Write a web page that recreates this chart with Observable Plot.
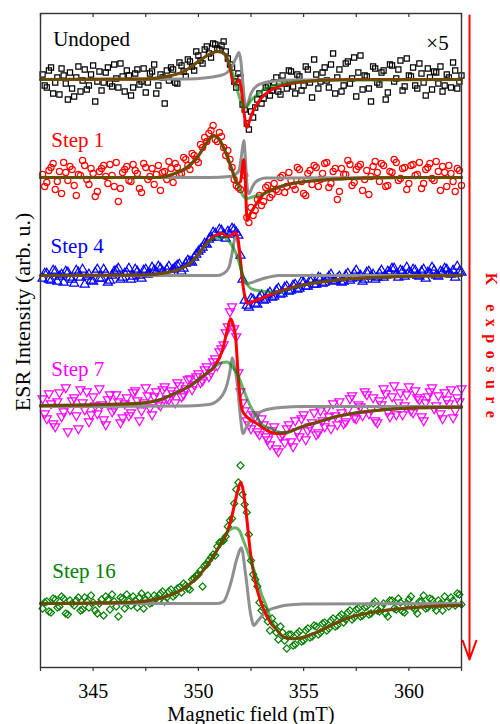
<!DOCTYPE html>
<html><head><meta charset="utf-8">
<script src="https://cdn.jsdelivr.net/npm/d3@7"></script>
<script src="https://cdn.jsdelivr.net/npm/@observablehq/plot@0.6"></script>
<style>
body{margin:0;background:#fff}
#chart svg, #chart svg text { font-family: "Liberation Serif", "DejaVu Serif", serif !important; }
</style>
</head><body><div id="chart"></div>
<script>
// ---------- DATA ----------
// two interleaved field sweeps (mT)
const fieldA = [
342.6,342.8,343.0,343.2,343.4,343.6,343.8,344.0,344.2,344.4,
344.6,344.8,345.0,345.2,345.4,345.6,345.8,346.0,346.2,346.4,
346.6,346.8,347.0,347.2,347.4,347.6,347.8,348.0,348.2,348.4,
348.6,348.8,349.0,349.2,349.4,349.6,349.8,350.0,350.2,350.4,
350.6,350.8,351.0,351.2,351.4,351.6,351.8,352.0,352.2,352.4,
352.6,352.8,353.0,353.2,353.4,353.6,353.8,354.0,354.2,354.4,
354.6,354.8,355.0,355.2,355.4,355.6,355.8,356.0,356.2,356.4,
356.6,356.8,357.0,357.2,357.4,357.6,357.8,358.0,358.2,358.4,
358.6,358.8,359.0,359.2,359.4,359.6,359.8,360.0,360.2,360.4,
360.6,360.8,361.0,361.2,361.4,361.6,361.8,362.0,362.2,362.4];
const fieldB = [
342.7,342.9,343.1,343.3,343.5,343.7,343.9,344.1,344.3,344.5,
344.7,344.9,345.1,345.3,345.5,345.7,345.9,346.1,346.3,346.5,
346.7,346.9,347.1,347.3,347.5,347.7,347.9,348.1,348.3,348.5,
348.7,348.9,349.1,349.3,349.5,349.7,349.9,350.1,350.3,350.5,
350.7,350.9,351.1,351.3,351.5,351.7,351.9,352.1,352.3,352.5,
352.7,352.9,353.1,353.3,353.5,353.7,353.9,354.1,354.3,354.5,
354.7,354.9,355.1,355.3,355.5,355.7,355.9,356.1,356.3,356.5,
356.7,356.9,357.1,357.3,357.5,357.7,357.9,358.1,358.3,358.5,
358.7,358.9,359.1,359.3,359.5,359.7,359.9,360.1,360.3,360.5,
360.7,360.9,361.1,361.3,361.5,361.7,361.9,362.1,362.3,362.5];

const names = ["Undoped","Step 1","Step 4","Step 7","Step 16"];
const offsets = [588, 490, 392, 261, 63];

// intensities relative to each spectrum's baseline (arb. u.)
const undopedA = [5,-8,12,-3,-15,4,-20,-9,2,-12, 10,-6,14,-2,-11,7,-4,15,-8,3, 9,-16,6,-5,11,-3,8,-14,5,-24,
 -1,10,-4,14,3,18,9,24,16,33, 22,35,30,38,21,12,-8,2,-30,-50, -38,-20,-24,-8,-16,-3,-12,4,-9,8,
 -14,3,-6,10,-18,5,-2,12,-8,26, 2,-12,16,-4,22,7,-10,3,-22,11, -5,9,-13,14,1,19,-7,4,12,-9, 6,-16,2,8,-4,-12,5,-8,9,-2];
const undopedB = [-6,9,-14,2,11,-4,7,-17,13,-1, -10,5,-22,8,-3,12,-7,1,16,-12, 4,-8,10,-2,-13,6,15,-6,2,9,
 12,-3,17,8,20,13,28,19,30,26, 36,31,34,28,15,-2,6,-25,-44,-32, -28,-14,-19,-6,-11,2,-15,-4,9,-7,
 5,-11,13,-3,20,-9,7,-1,15,-14, 10,-6,18,1,-17,24,4,-9,13,-3, 7,-20,15,-2,10,-11,21,3,-6,16, -3,11,-10,7,13,-6,2,17,-9,4];
const step1A = [3,-5,10,-12,6,15,-3,8,-18,2, 12,-7,4,-14,9,1,13,-9,-24,5, 11,-4,7,-11,14,-2,9,3,-13,6,
 16,-5,10,4,18,8,22,15,30,36, 47,38,45,30,27,10,-8,-12,2,-45, -38,-22,-28,-10,-20,-6,-14,2,-9,-3,
 -12,8,-16,4,-7,10,-2,14,-10,6, -22,9,3,13,-5,11,-13,7,1,16, -4,12,-8,5,15,-1,10,-6,13,3, -11,8,14,-3,6,11,-9,4,-14,7];
const step1B = [-9,7,14,-4,-16,5,11,-8,3,17, -2,9,-19,6,12,-6,2,15,-11,8, -3,13,4,-15,10,1,-7,12,5,-2,
 9,14,3,20,12,24,18,33,40,44, 52,36,41,22,18,-2,-10,8,-40,-30, -33,-18,-24,-8,-17,-12,0,-15,5,-8,
 10,-4,-18,7,12,-9,4,15,-6,9, -14,3,17,-8,8,13,-2,-17,11,5, 14,-9,6,18,-3,9,-12,12,2,15, -6,10,-1,16,-13,5,12,-4,9,-8];
const step4A = [-3,2,-5,4,-1,-7,3,-4,5,-2, -9,1,-6,6,-3,2,-5,4,7,-2, 3,-4,6,0,5,1,8,3,7,2,
 9,6,10,4,12,14,18,24,28,31, 38,42,46,41,44,47,43,20,-25,-32, -24,-29,-20,-24,-17,-21,-13,-18,-11,-15,
 -9,-13,-7,-11,-4,-9,-3,-7,-1,-6, -3,-7,0,-5,2,-2,-6,3,-1,-4, 2,-2,4,7,1,5,-1,3,6,0, 4,-3,2,5,-1,3,6,1,-2,4];
const step4B = [2,-4,5,-6,1,4,-2,-8,3,6, -1,-5,3,-3,6,-7,0,5,-4,2, 7,-1,4,-3,6,2,5,9,4,6,
 3,8,11,7,15,13,21,26,32,36, 43,38,45,37,41,46,40,-4,-30,-23, -28,-22,-25,-19,-22,-15,-19,-12,-16,-10,
 -14,-6,-11,-5,-9,-2,-8,-4,1,-5, -1,-6,2,-3,5,0,-4,4,1,-2, 5,0,3,7,-2,4,8,2,5,-1, 6,3,8,0,4,7,2,5,9,3];
const step7A = [8,-12,3,-20,14,-5,-25,6,-9,17, -3,-15,10,-7,2,-18,12,-2,5,-11, 9,-6,16,-14,4,11,-8,15,1,20,
 7,13,24,10,18,28,22,33,26,40, 34,48,55,62,80,100,70,15,-4,-18, -8,-25,-12,-30,-38,-20,-45,-28,-22,-35,
 -14,-30,-8,-24,-16,-28,-4,-20,-10,3, -18,-6,-15,8,-11,2,-9,12,-3,-14, 6,18,-5,10,-8,14,1,20,-6,9, -10,4,15,-2,11,-12,7,17,-4,5];
const step7B = [-7,13,-17,5,-10,19,-3,9,-22,4, 15,-8,1,18,-13,7,-5,12,-16,3, -9,14,6,-4,19,-1,10,3,17,8,
 16,4,21,12,27,17,30,24,37,30, 45,41,58,74,95,78,34,4,-14,-22, -10,-28,-18,-33,-24,-42,-30,-36,-18,-40,
 -25,-12,-33,-20,-6,-26,-14,-2,-22,-9, 5,-17,-3,11,-12,0,15,-7,9,-16, 2,13,-10,21,4,-8,12,-4,16,7, -14,10,19,1,-7,14,3,-11,9,18];
const step16A = [-4,3,-8,5,-2,6,-10,1,4,-6, 7,-3,2,-9,5,8,-5,3,-12,6, 10,-1,4,7,-4,9,2,6,11,3,
 13,8,16,12,19,15,26,30,18,40, 47,49,62,64,78,86,115,139,100,70, 30,18,-6,-12,-26,-20,-35,-28,-44,-30,
 -40,-27,-36,-24,-32,-22,-28,-18,-24,-14, -21,-10,-15,-6,-13,-4,-11,-2,-9,3, -7,1,-12,4,-5,2,-8,5,-3,-9, 3,-4,6,-2,4,-6,2,7,-1,10];
const step16B = [2,-7,6,-3,8,-9,4,-1,7,-5, 3,9,-6,1,-11,5,10,-2,7,-4, 3,8,-3,11,5,1,9,4,13,7,
 15,10,17,21,16,25,29,34,39,44, 50,58,63,68,84,101,122,110,92,44, 25,2,-4,-17,-14,-28,-22,-36,-30,-41,
 -29,-37,-26,-33,-21,-30,-19,-26,-16,-22, -12,-18,-8,-15,-5,-12,-3,-10,1,-6, -2,-9,4,-4,6,-7,1,8,-5,3, 9,-3,5,-6,1,8,-2,4,11,0];

// fitted curves: [field (mT), intensity]
const undopedTotal = [[342.5,0],[347.5,0.5],[348.5,3],[349.3,8],[350.0,18],[350.5,25],[350.9,28],[351.15,27],[351.4,19],[351.55,7],[351.66,-4],[351.8,-3],[351.93,-0.3],[352.03,-8],[352.15,-30],[352.3,-48],[352.42,-42],[352.55,-34],[352.8,-24],[353.1,-16],[353.6,-9],[354.2,-4.5],[354.8,-2.7],[355.7,-1],[357.5,0],[362.5,0]];
const undopedBroad = [[342.5,0],[347.5,0.5],[348.5,3],[349.3,8],[350.0,18],[350.5,25],[350.9,28],[351.15,27],[351.4,20],[351.6,8],[351.8,-6],[351.95,-18],[352.1,-26],[352.25,-28],[352.5,-21],[352.8,-15],[353.1,-10],[353.6,-6],[354.2,-3.5],[355.0,-2],[356.5,-0.5],[362.5,0]];
const undopedNarrow = [[342.5,0],[349.5,0.5],[351.05,4],[351.37,7],[351.6,13],[351.8,22],[351.93,27],[352.02,18],[352.12,-5],[352.24,-27],[352.35,-24],[352.5,-14],[352.8,-6],[353.1,-3.5],[353.6,-1.5],[354.5,-0.5],[362.5,0]];

const step1Total = [[342.5,0],[347.0,0],[348.05,0],[348.84,3.7],[349.47,10.3],[349.95,20.3],[350.42,35.3],[350.71,42],[350.97,38.7],[351.29,25.3],[351.61,7],[351.85,-6.3],[352.0,-4],[352.1,12],[352.15,18],[352.22,0],[352.32,-43],[352.42,-38],[352.56,-33],[352.8,-25],[353.1,-16.3],[353.59,-11.3],[354.06,-8],[354.86,-4.7],[355.65,-3],[357.2,-1],[359.6,0],[362.5,0]];
const step1Broad = [[342.5,0],[347.0,0],[348.05,0],[348.84,3.7],[349.47,10.3],[349.95,20.3],[350.42,35.3],[350.71,42],[350.97,38.7],[351.29,25.3],[351.61,7],[351.85,-6.3],[352.0,-13],[352.15,-19],[352.32,-21],[352.5,-20],[352.8,-18],[353.1,-16.3],[353.59,-11.3],[354.06,-8],[354.86,-4.7],[355.65,-3],[357.2,-1],[359.6,0],[362.5,0]];
const step1Narrow = [[342.5,0],[350.5,0],[351.5,1],[351.75,3],[351.93,7],[352.05,22],[352.16,37],[352.23,20],[352.3,-5],[352.38,-16],[352.45,-15],[352.55,-10],[352.7,-5],[352.9,-2],[353.2,-0.5],[362.5,0]];

const step4Total = [[342.5,0],[347.5,0.5],[348.5,3],[349.2,7],[349.7,14],[350.1,24],[350.5,35],[350.9,41],[351.15,42],[351.35,39],[351.55,40],[351.75,43],[351.88,37],[352.0,15],[352.12,-10],[352.22,-22],[352.32,-28],[352.6,-26],[353.1,-22],[353.75,-16.5],[354.86,-10],[356.4,-5],[358.0,-2.3],[360.4,-0.7],[362.5,0]];
const step4Broad = [[342.5,0],[347.5,0.5],[348.5,3],[349.2,7],[349.7,14],[350.1,24],[350.5,34],[350.9,38],[351.2,38],[351.5,33],[351.75,24],[351.95,12],[352.15,-2],[352.35,-10],[352.6,-14],[353.0,-15.5],[353.4,-16.5],[353.75,-16.5],[354.86,-10],[356.4,-5],[358.0,-2.3],[360.4,-0.7],[362.5,0]];
const step4Narrow = [[342.5,0],[350.9,0],[351.2,2],[351.45,8],[351.6,22],[351.75,38],[351.85,36],[351.95,22],[352.05,3],[352.16,-6],[352.32,-8],[352.55,-7],[352.8,-5],[353.27,-2],[353.8,0],[362.5,0]];

const step7Total = [[342.5,1],[346.8,2.7],[348.05,6],[348.84,12.7],[349.63,21],[350.26,31],[350.74,39.3],[351.14,56],[351.37,76],[351.53,87.7],[351.65,82],[351.77,69],[351.92,22.7],[352.09,-4],[352.32,-10.7],[352.8,-17.3],[353.43,-25.7],[353.91,-27.3],[354.23,-25.7],[354.86,-20.7],[355.65,-15.7],[356.44,-10.7],[357.23,-7.3],[358.82,-3.3],[360.4,-1.3],[362.5,-0.7]];
const step7Broad = [[342.5,1],[346.8,2.7],[348.05,6],[348.84,12.7],[349.63,21],[350.26,31],[350.74,39.3],[351.14,44],[351.37,44.5],[351.6,40],[351.85,32.7],[352.16,16],[352.48,0],[352.8,-11],[352.97,-17],[353.43,-22],[353.91,-26],[354.23,-25.7],[354.86,-20.7],[355.65,-15.7],[356.44,-10.7],[357.23,-7.3],[358.82,-3.3],[360.4,-1.3],[362.5,-0.7]];
const step7Narrow = [[342.5,0],[349.5,0.5],[350.5,2],[351.06,9],[351.37,22.7],[351.5,35],[351.61,48.7],[351.72,40],[351.85,22.7],[352.0,-10.7],[352.12,-27],[352.25,-22],[352.48,-14],[352.8,-7],[353.11,-4],[353.91,-1],[355.0,0],[362.5,0]];

const step16Total = [[342.5,1],[346.78,2.3],[348.36,7.3],[349.15,14],[349.95,27.3],[350.58,44],[351.06,60.7],[351.37,72.3],[351.55,85],[351.69,97.3],[351.85,112],[352.01,122.3],[352.12,115],[352.24,97.3],[352.48,50.7],[352.64,30],[352.8,14],[353.27,-12.7],[353.75,-26],[354.06,-32.7],[354.54,-34.3],[355.65,-27.7],[356.44,-19.3],[357.23,-12.7],[358.82,-6],[360.4,-2.7],[362.5,-1]];
const step16Broad = [[342.5,1],[346.78,2.3],[348.36,7.3],[349.15,14],[349.95,27.3],[350.58,44],[351.06,60.7],[351.37,72.3],[351.75,76.7],[351.95,74],[352.1,66],[352.32,54],[352.55,40],[352.8,24],[353.0,10],[353.2,0],[353.43,-14],[353.75,-26],[354.06,-32.7],[354.54,-34.3],[355.65,-27.7],[356.44,-19.3],[357.23,-12.7],[358.82,-6],[360.4,-2.7],[362.5,-1]];
const step16Narrow = [[342.5,1],[350.9,1],[351.2,3],[351.53,20.7],[351.85,47.3],[352.04,56.7],[352.24,30.7],[352.48,-9.3],[352.64,-21],[352.8,-17],[353.11,-9.3],[353.4,-5],[353.75,-2.7],[354.06,-1],[355.0,0.5],[362.5,1]];

const majorTicks = [345, 350, 355, 360];
const minorTicks = [342.5, 347.5, 352.5, 357.5, 362.5];

// ---------- STYLE / LAYOUT ----------
const colors = ["#000000", "#ff0000", "#0000ff", "#ff00ff", "#008000"];
const symbols = ["square", "circle", "triangle", "triangle", "diamond2"];
const rotations = [0, 0, 0, 180, 0];
const radii = [2.9, 3.1, 3.4, 3.4, 3.2];
const labelX = [343.1, 343.01, 342.98, 343.01, 343.06];
const labelY = [622, 521, 415, 292, 90];
const serif = '"Liberation Serif", "DejaVu Serif", serif';

const seriesA = [undopedA, step1A, step4A, step7A, step16A];
const seriesB = [undopedB, step1B, step4B, step7B, step16B];
const totals = [undopedTotal, step1Total, step4Total, step7Total, step16Total];
const broads = [undopedBroad, step1Broad, step4Broad, step7Broad, step16Broad];
const narrows = [undopedNarrow, step1Narrow, step4Narrow, step7Narrow, step16Narrow];

const marks = [];
names.forEach((name, k) => {
  const pts = seriesA[k].map((v, i) => ({x: fieldA[i], y: offsets[k] + v}))
    .concat(seriesB[k].map((v, i) => ({x: fieldB[i], y: offsets[k] + v})));
  marks.push(Plot.dot(pts, {x: "x", y: "y", symbol: symbols[k], r: radii[k], rotate: rotations[k],
    stroke: colors[k], strokeWidth: 1.2, fill: "none"}));
});
const curveOf = (arr, k) => arr.map(([x, v]) => ({x, y: offsets[k] + v}));
narrows.forEach((arr, k) => marks.push(Plot.line(curveOf(arr, k), {x: "x", y: "y", stroke: "#8f8f8f", strokeWidth: 3, curve: "monotone-x"})));
totals.forEach((arr, k) => marks.push(Plot.line(curveOf(arr, k), {x: "x", y: "y", stroke: "#ff0000", strokeWidth: 3, curve: "monotone-x"})));
broads.forEach((arr, k) => marks.push(Plot.line(curveOf(arr, k), {x: "x", y: "y", stroke: "#008000", strokeOpacity: 0.6, strokeWidth: 3, curve: "monotone-x"})));

const labels = names.map((t, k) => ({t, x: labelX[k], y: labelY[k], c: colors[k]}));
marks.push(Plot.text(labels, {x: "x", y: "y", text: "t", fill: "c", fontSize: 21, textAnchor: "start", lineAnchor: "bottom", fontFamily: serif}));
marks.push(Plot.text(["×5"], {x: 360.83, y: 618, fontSize: 21, textAnchor: "start", lineAnchor: "bottom", fontFamily: serif, fill: "black"}));

marks.push(Plot.frame({stroke: "#333", strokeWidth: 1.4}));
marks.push(Plot.ruleX(majorTicks.concat(minorTicks), {y1: 654, y2: 650, stroke: "#333", strokeWidth: 1.2}));
marks.push(Plot.ruleX(minorTicks, {y1: 0, y2: -4, stroke: "#333", strokeWidth: 1.2}));
marks.push(Plot.axisX(majorTicks, {tickSize: 4, tickPadding: 12, label: null, stroke: "#333", strokeWidth: 1.2, fontSize: 20, fontFamily: serif, fill: "black"}));
marks.push(Plot.text(["Magnetic field (mT)"], {x: 352.5, y: -53, fontSize: 20.5, fontFamily: serif, lineAnchor: "bottom", fill: "black"}));
marks.push(Plot.text(["ESR Intensity (arb. u.)"], {x: 341.98, y: 355.5, rotate: -90, fontSize: 22, fontFamily: serif, lineAnchor: "bottom", fill: "black"}));
marks.push(Plot.arrow([{x1: 362.88, y1: 652, x2: 362.88, y2: 8}], {x1: "x1", y1: "y1", x2: "x2", y2: "y2", stroke: "#ff0000", strokeWidth: 2, headLength: 15, headAngle: 40}));
marks.push(Plot.text(["K exposure"], {x: 363.65, y: 318.5, rotate: 90, fontSize: 16, fontWeight: "bold", fontFamily: serif, lineAnchor: "bottom", fill: "#ff0000"}));

const chart = Plot.plot({
  width: 500, height: 724,
  marginLeft: 40, marginRight: 39, marginTop: 13, marginBottom: 57,
  x: {domain: [342.5, 362.5]},
  y: {domain: [0, 654], axis: null},
  style: {fontFamily: serif, fontSize: "20px", background: "white", color: "black", overflow: "visible"},
  marks
});
chart.setAttribute("font-family", serif);
chart.querySelectorAll("text").forEach(t => {
  t.setAttribute("font-family", serif);
  if (t.textContent === "K exposure") t.setAttribute("letter-spacing", "7.5px");
});
document.getElementById("chart").appendChild(chart);
</script>
</body></html>
